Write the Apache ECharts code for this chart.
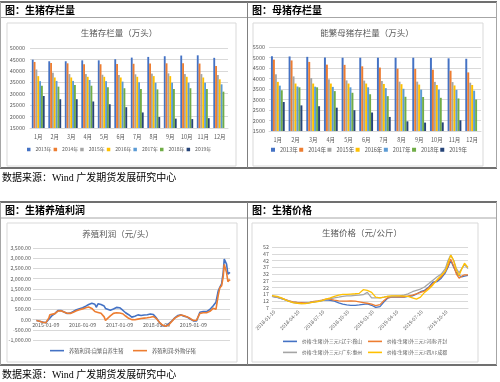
<!DOCTYPE html>
<html><head><meta charset="utf-8">
<script src="https://cdn.jsdelivr.net/npm/echarts@6/dist/echarts.min.js"></script>
<style>html,body{margin:0;padding:0;background:#fff}#c{width:500px;height:382px}</style>
</head><body><div id="c"></div>
<script>
// ---------- data ----------
const months = ['1月','2月','3月','4月','5月','6月','7月','8月','9月','10月','11月','12月'];
const years = ['2013年','2014年','2015年','2016年','2017年','2018年','2019年'];
const yearColors = ['#4472C4','#ED7D31','#A5A5A5','#FFC000','#5B9BD5','#70AD47','#264478'];

// 生猪存栏量（万头）
const hog2013 = [44900, 44200, 44200, 44600, 44600, 45100, 45800, 46100, 46400, 46700, 46800, 45700];
const hog2014 = [43900, 43400, 43300, 42900, 42900, 43000, 43100, 43200, 43300, 43300, 43200, 42100];
const hog2015 = [40600, 39200, 38600, 38600, 38300, 38200, 38500, 38800, 38900, 38600, 38600, 38200];
const hog2016 = [37700, 37100, 37100, 37400, 37400, 37100, 37400, 37700, 37700, 37400, 37100, 36300];
const hog2017 = [35500, 35600, 35600, 36000, 35500, 35300, 35000, 34800, 34800, 34800, 34800, 34100];
const hog2018 = [33500, 33100, 33800, 33500, 32800, 32400, 32100, 31900, 32100, 32400, 32100, 30900];
const hog2019 = [29000, 27600, 27600, 26600, 25400, 24100, 21800, 19800, 19100, 18900, 19300, null];

// 能繁母猪存栏量（万头）
const sow2013 = [5060, 5050, 5030, 5000, 4990, 4990, 4990, 4990, 4990, 4980, 4960, 4940];
const sow2014 = [4900, 4860, 4790, 4660, 4650, 4580, 4520, 4470, 4460, 4420, 4370, 4290];
const sow2015 = [4200, 4100, 4020, 3960, 3910, 3900, 3880, 3850, 3850, 3840, 3830, 3800];
const sow2016 = [3840, 3760, 3760, 3760, 3760, 3760, 3740, 3730, 3710, 3690, 3670, 3690];
const sow2017 = [3660, 3620, 3610, 3600, 3580, 3580, 3540, 3510, 3470, 3470, 3460, 3420];
const sow2018 = [3440, 3580, 3580, 3400, 3320, 3250, 3160, 3130, 3120, 3080, 3050, 3000];
const sow2019 = [2880, 2720, 2680, 2610, 2490, 2380, 2170, 1960, 1900, 1910, 2010, null];

// 养殖利润（元/头）
const profitDates = ['2014-10-09','2014-11-09','2014-12-09','2015-01-09','2015-02-09','2015-02-18','2015-03-09','2015-04-09','2015-05-09','2015-06-09','2015-07-09','2015-08-09','2015-09-09','2015-10-09','2015-11-09','2015-12-09',
 '2016-01-09','2016-02-09','2016-03-09','2016-04-09','2016-05-09','2016-05-23','2016-06-09','2016-07-09','2016-08-09','2016-08-22','2016-09-09','2016-10-09','2016-11-09','2016-12-09',
 '2017-01-09','2017-02-09','2017-03-09','2017-04-09','2017-05-09','2017-06-09','2017-07-09','2017-08-09','2017-09-09','2017-10-09','2017-11-09','2017-12-09',
 '2018-01-09','2018-02-09','2018-03-09','2018-04-09','2018-05-09','2018-06-09','2018-07-09','2018-08-09','2018-09-09','2018-10-09','2018-11-09','2018-12-09',
 '2019-01-09','2019-02-09','2019-02-28','2019-03-14','2019-04-16','2019-05-19','2019-06-21','2019-07-24','2019-08-20','2019-09-12','2019-09-27','2019-10-15','2019-10-31','2019-11-10','2019-11-20','2019-12-03','2019-12-16','2019-12-30','2020-01-06'];
const profitSelf = [-50,-80,-120,-155,20,80,175,290,436,440,374,300,314,396,482,533,
 580,655,735,795,750,600,770,733,662,545,487,461,520,594,
 578,456,334,237,119,167,229,201,226,238,268,250,
 70,-155,-300,-330,-215,-70,80,200,228,167,120,25,
 -67,-70,-30,360,390,390,490,680,850,1410,1575,1740,2310,2960,3040,2710,2220,2270,2310];
const profitBought = [-50,-80,-130,-160,80,230,250,290,415,430,365,312,300,360,430,478,
 522,578,610,545,395,380,350,305,130,-40,20,180,304,330,
 320,284,173,60,-4,-8,21,49,68,86,112,145,
 45,-150,-267,-322,-268,-90,70,160,219,184,129,48,
 -46,-32,-10,300,330,330,400,550,500,1200,1550,1650,2100,2700,2650,2300,1850,1950,1900];
const profitTicks = ['2015-01-09','2016-01-09','2017-01-09','2018-01-09','2019-01-09'];

// 生猪价格（元/公斤）
const priceDates = ['2018-01-01','2018-01-20','2018-02-05','2018-02-20','2018-03-05','2018-03-20','2018-04-05','2018-04-20','2018-05-05','2018-05-20','2018-06-05','2018-06-20',
 '2018-07-05','2018-07-20','2018-08-05','2018-08-20','2018-09-05','2018-09-20','2018-10-05','2018-10-20','2018-11-05','2018-11-20','2018-12-05','2018-12-20',
 '2019-01-05','2019-01-20','2019-02-05','2019-02-20','2019-03-05','2019-03-20','2019-04-05','2019-04-20','2019-05-05','2019-05-20','2019-06-05','2019-06-20',
 '2019-07-05','2019-07-20','2019-08-05','2019-08-20','2019-09-05','2019-09-20','2019-10-05','2019-10-15','2019-10-25','2019-11-05','2019-11-15','2019-11-25','2019-12-05','2019-12-15','2019-12-28'];
const priceLiaoning = [15.5,14.8,14,13,12,11.3,11,10.8,10.5,11,11.6,11.9,12.5,13,12.7,12,10.8,9.8,9.3,9,9,9.3,9.7,10,9,7.5,8,11.5,14.2,15,15,15,15,15.5,16,17.3,19,20,22.5,26,26.5,29,33,37,42,37,33,31,30,30.5,31];
const priceHenan = [15.8,15,14.2,13.2,12.2,11.5,11.2,11,10.8,11.2,11.8,12.2,12.8,13.5,13.3,12.8,12.3,12,12,12.2,12,11.5,11,10.5,9.8,8.8,9.5,12.5,14.5,15.3,15.2,15.3,15.3,15.8,16.5,17.5,18.5,19.5,22,25,27.5,30,34,38,43,38,32,29,30.5,31.5,31.5];
const priceGuangdong = [15.6,15,14,13,12,11,10.5,10.3,10.5,11,11.5,12,12.7,13.3,14,14.5,15,15.5,16,16,16.3,16.5,16.8,18.5,14.5,14.5,14.5,15,15.5,15.5,15.8,16,16.5,17.5,19,20,21,22.5,25,27.5,30,32,36,42,46,42,36,33,36,39,36];
const priceSichuan = [16.2,15.5,14.5,13,11.8,11,10.5,10.2,10.3,10.8,11.3,11.8,12.4,13.5,14.5,15.5,16.5,17,17,17.3,17.5,17.8,20.5,20,18.5,15,14.5,15,15.5,16,16,16,15.8,15.5,14.5,13.5,15,18.5,21,24,28,31,34,40,46,42,35,31,36,40,37];
const priceTicks = ['2018-01-10','2018-04-10','2018-07-10','2018-10-10','2019-01-10','2019-04-10','2019-07-10','2019-10-10'];

const profitNames = ['养殖利润:自繁自养生猪','养殖利润:外购仔猪'];
const priceNames = ['价格:生猪(外三元):辽宁:鞍山','价格:生猪(外三元):河南:开封','价格:生猪(外三元):广东:惠州','价格:生猪(外三元):四川:成都'];
const lineColors = ['#4472C4','#ED7D31','#A5A5A5','#FFC000'];

// ---------- chart ----------
const FONT = '"Noto Sans CJK SC", sans-serif';
const GRAY = '#595959';
const hogSeries = [hog2013,hog2014,hog2015,hog2016,hog2017,hog2018,hog2019];
const sowSeries = [sow2013,sow2014,sow2015,sow2016,sow2017,sow2018,sow2019];
const ts = s => { const p = s.split('-').map(Number); return Date.UTC(p[0], p[1]-1, p[2]); };
const pad = n => (n < 10 ? '0' : '') + n;
const fmtDate = v => { const d = new Date(v); return d.getUTCFullYear() + '-' + pad(d.getUTCMonth()+1) + '-' + pad(d.getUTCDate()); };
const fmtMoney = v => (v < 0 ? '-' : '') + Math.abs(v).toFixed(2).replace(/\B(?=(\d{3})+(?!\d))/g, ',');
const fmtPlain = v => String(v);

const axisLab = (size, extra) => Object.assign({fontSize: size, color: GRAY, fontFamily: FONT}, extra || {});
const split = {show: true, lineStyle: {color: '#D9D9D9', width: 1}};

const series = [];
years.forEach((y, i) => {
  series.push({type:'bar', name:y, xAxisIndex:0, yAxisIndex:0, data:hogSeries[i], itemStyle:{color:yearColors[i]}, barGap:'0%', barCategoryGap:'22%', silent:true});
});
years.forEach((y, i) => {
  series.push({type:'bar', name:y, xAxisIndex:1, yAxisIndex:1, data:sowSeries[i], itemStyle:{color:yearColors[i]}, barGap:'0%', barCategoryGap:'22%', silent:true});
});
[profitSelf, profitBought].forEach((arr, i) => {
  series.push({type:'line', name:profitNames[i], xAxisIndex:2, yAxisIndex:2, data:profitDates.map((d,k)=>[ts(d), arr[k]]),
    symbol:'none', lineStyle:{width:1.6, color:lineColors[i]}, itemStyle:{color:lineColors[i]}, silent:true});
});
[priceLiaoning, priceHenan, priceGuangdong, priceSichuan].forEach((arr, i) => {
  series.push({type:'line', name:priceNames[i], xAxisIndex:3, yAxisIndex:3, data:priceDates.map((d,k)=>[ts(d), arr[k]]),
    symbol:'none', lineStyle:{width:1.3, color:lineColors[i]}, itemStyle:{color:lineColors[i]}, silent:true});
});

const legText = size => ({fontSize: size, color: GRAY, fontFamily: FONT});
const lineLegend = (name, left, top, size) => ({data:[name], left:left, top:top, icon:'rect', itemWidth:14, itemHeight:1.6, itemGap:0, selectedMode:false, padding:0, textStyle:legText(size || 5.3)});

const T = (text, x, y, font, fill, align) => ({type:'text', x:x, y:y, silent:true, style:{text:text, font:font, fill:fill||'#000', textAlign:align||'left', textVerticalAlign:'middle'}});
const L = (x1,y1,x2,y2,c,w) => ({type:'line', silent:true, shape:{x1:x1,y1:y1,x2:x2,y2:y2}, style:{stroke:c, lineWidth:w}});
const R = (x,y,w,h) => ({type:'rect', silent:true, shape:{x:x,y:y,width:w,height:h}, style:{fill:'none', stroke:'#D9D9D9', lineWidth:1}});

const HEAD = 'bold 10px ' + FONT;
const SRC = '10px "Liberation Serif", "Noto Sans CJK SC", serif';
const TTL = '8.5px ' + FONT;

// profit grid: zero line offset from the bottom of the plot
const PG = {left:33, top:248, width:197, height:92};
const PMIN = -1000, PMAX = 3500;
const zeroOffset = PG.height * (0 - PMIN) / (PMAX - PMIN);

const option = {
  backgroundColor:'#fff',
  animation:false,
  grid:[
    {left:30, top:48, width:198, height:80},
    {left:269, top:47, width:212, height:84},
    PG,
    {left:272, top:247, width:196, height:61}
  ],
  xAxis:[
    {type:'category', gridIndex:0, data:months, axisTick:{show:false}, axisLine:{lineStyle:{color:'#D9D9D9'}}, axisLabel:axisLab(5.5,{margin:6})},
    {type:'category', gridIndex:1, data:months, axisTick:{show:false}, axisLine:{lineStyle:{color:'#D9D9D9'}}, axisLabel:axisLab(5.5,{margin:6})},
    {type:'value', gridIndex:2, position:'bottom', offset:-zeroOffset, min:ts('2014-09-05'), max:ts('2020-01-06'), axisTick:{show:false}, splitLine:{show:false},
      axisLine:{onZero:false, lineStyle:{color:'#D9D9D9'}},
      axisLabel:axisLab(5.3,{margin:3, customValues:profitTicks.map(ts), formatter:fmtDate, hideOverlap:false})},
    {type:'value', gridIndex:3, min:ts('2018-01-01'), max:ts('2019-12-28'), axisTick:{show:false}, splitLine:{show:false},
      axisLine:{lineStyle:{color:'#D9D9D9'}},
      axisLabel:axisLab(5,{margin:3, rotate:45, customValues:priceTicks.map(ts), formatter:fmtDate, hideOverlap:false})}
  ],
  yAxis:[
    {type:'value', gridIndex:0, min:15000, max:50000, interval:5000, axisLine:{show:false}, axisTick:{show:false}, splitLine:split, axisLabel:axisLab(5.5,{margin:5, formatter:fmtPlain})},
    {type:'value', gridIndex:1, min:1500, max:5500, interval:500, axisLine:{show:false}, axisTick:{show:false}, splitLine:split, axisLabel:axisLab(5.5,{margin:4, formatter:fmtPlain})},
    {type:'value', gridIndex:2, min:PMIN, max:PMAX, interval:500, axisLine:{show:false}, axisTick:{show:false}, splitLine:split, axisLabel:axisLab(5.3,{margin:2, formatter:fmtMoney})},
    {type:'value', gridIndex:3, min:7, max:52, interval:5, axisLine:{show:false}, axisTick:{show:false}, splitLine:split, axisLabel:axisLab(5.3,{margin:3, formatter:fmtPlain})}
  ],
  legend:[
    {data:years, left:27, top:147, icon:'rect', itemWidth:3.5, itemHeight:3.5, itemGap:2, selectedMode:false, padding:0, textStyle:legText(5)},
    {data:years, left:271, top:147, icon:'rect', itemWidth:4, itemHeight:4, itemGap:1.5, selectedMode:false, padding:0, textStyle:legText(5.5)},
    lineLegend(profitNames[0], 50, 348),
    lineLegend(profitNames[1], 133, 348),
    lineLegend(priceNames[0], 283, 339, 4.8),
    lineLegend(priceNames[1], 368, 339, 4.8),
    lineLegend(priceNames[2], 283, 350, 4.8),
    lineLegend(priceNames[3], 368, 350, 4.8)
  ],
  series:series,
  graphic:{elements:[
    L(0,2,497,2,'#404040',1.5), L(0,17.5,497,17.5,'#A6A6A6',1), L(0,168,497,168,'#404040',1.5),
    L(0.5,2,0.5,168,'#A6A6A6',1), L(247.5,2,247.5,168,'#808080',1), L(496.5,2,496.5,168,'#A6A6A6',1),
    L(0,202,497,202,'#404040',1.5), L(0,218,497,218,'#A6A6A6',1), L(0,365,497,365,'#404040',1.5),
    L(0.5,202,0.5,365,'#A6A6A6',1), L(247.5,202,247.5,365,'#808080',1), L(496.5,202,496.5,365,'#A6A6A6',1),
    R(7,23,229,143), R(253,23,230,143), R(7,223,230,139), R(252,223,226,139),
    T('图：生猪存栏量', 5, 10, HEAD), T('图：母猪存栏量', 252, 10, HEAD),
    T('图：生猪养殖利润', 5, 210, HEAD), T('图：生猪价格', 252, 210, HEAD),
    T('生猪存栏量（万头）', 119, 33, TTL, GRAY, 'center'),
    T('能繁母猪存栏量（万头）', 367, 33, TTL, GRAY, 'center'),
    T('养殖利润（元/头）', 118, 234, TTL, GRAY, 'center'),
    T('生猪价格（元/公斤）', 362, 233, TTL, GRAY, 'center'),
    T('数据来源：Wind 广发期货发展研究中心', 2, 178, SRC),
    T('数据来源：Wind 广发期货发展研究中心', 2, 375, SRC)
  ]}
};
const chart = echarts.init(document.getElementById('c'), null, {renderer:'canvas'});
chart.setOption(option);
</script>
</body></html>
